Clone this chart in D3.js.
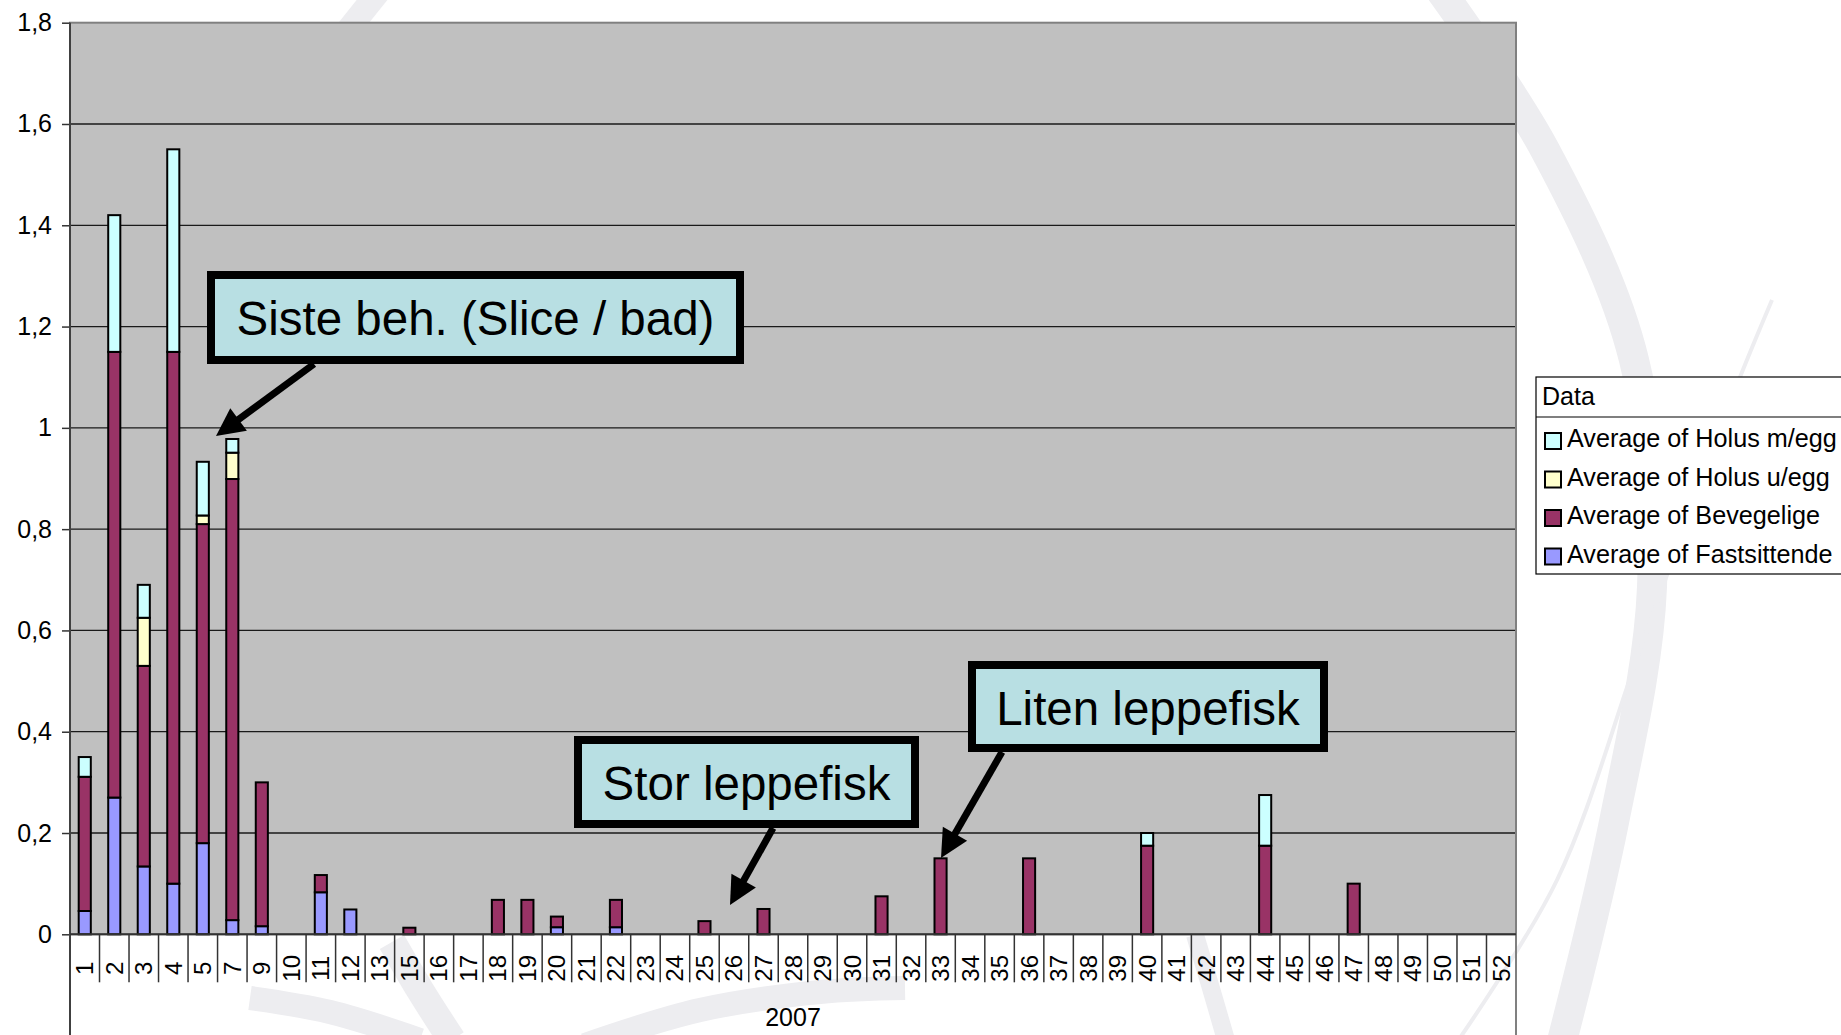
<!DOCTYPE html>
<html lang="no">
<head>
<meta charset="UTF-8">
<title>Lus per fisk 2007</title>
<script src="https://d3js.org/d3.v7.min.js"></script>
<style>
    body { margin: 0; background: #fff; }
    svg { display: block; font-family: "Liberation Sans", Arial, sans-serif; }
</style>
</head>
<body>
<svg class="chart"></svg>
<script>
    const svgW = 1841;
    const svgH = 1035;

    // uker (kategorier) - 6, 8 og 14 mangler i kilden
    const weeks = ["1","2","3","4","5","7","9","10","11","12","13","15","16","17","18","19","20","21","22","23","24","25","26","27","28","29","30","31","32","33","34","35","36","37","38","39","40","41","42","43","44","45","46","47","48","49","50","51","52"];

    // serier, lest av bildet
    const fastsittende = [0.046,0.270,0.134,0.100,0.180,0.028,0.016,0,0.083,0.049,0,0,0,0,0,0,0.014,0,0.014,0,0,0,0,0,0,0,0,0,0,0,0,0,0,0,0,0,0,0,0,0,0,0,0,0,0,0,0,0,0];
    const bevegelige   = [0.265,0.880,0.396,1.050,0.630,0.871,0.284,0,0.034,0,0,0.013,0,0,0.068,0.068,0.021,0,0.054,0,0,0.026,0,0.050,0,0,0,0.075,0,0.150,0,0,0.150,0,0,0,0.175,0,0,0,0.175,0,0,0.100,0,0,0,0,0];
    const holusUegg    = [0,0,0.095,0,0.017,0.052,0,0,0,0,0,0,0,0,0,0,0,0,0,0,0,0,0,0,0,0,0,0,0,0,0,0,0,0,0,0,0,0,0,0,0,0,0,0,0,0,0,0,0];
    const holusMegg    = [0.039,0.270,0.065,0.400,0.106,0.027,0,0,0,0,0,0,0,0,0,0,0,0,0,0,0,0,0,0,0,0,0,0,0,0,0,0,0,0,0,0,0.025,0,0,0,0.100,0,0,0,0,0,0,0,0];

    const seriesKeys   = ["fast", "bev", "hu", "hm"];
    const seriesNames  = ["Average of Fastsittende", "Average of Bevegelige", "Average of Holus u/egg", "Average of Holus m/egg"];
    const seriesColors = ["#9999ff", "#993366", "#ffffcc", "#ccffff"];

    const yMax = 1.8;

    const rows = weeks.map((w, i) => ({
        week: w, fast: fastsittende[i], bev: bevegelige[i], hu: holusUegg[i], hm: holusMegg[i]
    }));

    const plot = { left: 70, right: 1516, top: 22.7, bottom: 934.3 };

    const svg = d3.select(".chart")
        .attr("width", svgW)
        .attr("height", svgH)
        .attr("viewBox", `0 0 ${svgW} ${svgH}`);

    // vannmerke (svake buer i bakgrunnen)
    const wm = svg.append("g").attr("fill", "none").attr("stroke", "#ededf0").attr("stroke-linecap", "butt");
    const curve = d3.line().curve(d3.curveCatmullRom);
    wm.append("path").attr("stroke-width", 30)
        .attr("d", curve([[1440, -10], [1545, 150], [1634, 360], [1652, 587], [1614, 822], [1561, 1045]]));
    wm.append("path").attr("stroke-width", 4)
        .attr("d", curve([[1772, 300], [1731, 400], [1640, 650], [1557, 880], [1455, 1045]]));
    wm.append("path").attr("stroke-width", 24)
        .attr("d", curve([[380, -10], [360, 15], [340, 40]]));
    wm.append("path").attr("stroke-width", 24)
        .attr("d", curve([[250, 998], [330, 1012], [420, 1040]]));
    wm.append("path").attr("stroke-width", 28)
        .attr("d", curve([[392, 942], [420, 990], [452, 1040]]));
    wm.append("path").attr("stroke-width", 24)
        .attr("d", curve([[585, 1045], [700, 1010], [820, 992], [905, 988]]));
    wm.append("path").attr("stroke-width", 18)
        .attr("d", curve([[1195, 935], [1210, 985], [1226, 1040]]));

    // skalaer
    const x = d3.scaleBand()
        .domain(weeks)
        .range([plot.left, plot.right])
        .paddingInner(0.59)
        .paddingOuter(0.295);

    const y = d3.scaleLinear().domain([0, yMax]).range([plot.bottom, plot.top]);

    const nb = d3.formatLocale({ decimal: ",", thousands: " ", grouping: [3], currency: ["", " kr"] });
    const fmt = nb.format(".1~f");

    // plottområde
    svg.append("rect")
        .attr("x", plot.left).attr("y", plot.top)
        .attr("width", plot.right - plot.left).attr("height", plot.bottom - plot.top)
        .attr("fill", "#c0c0c0")
        .attr("stroke", "#808080").attr("stroke-width", 2);

    // rutenett
    const yTicks = y.ticks(9);
    svg.append("g").selectAll("line")
        .data(yTicks.filter(d => d > 0 && d < yMax))
        .join("line")
        .attr("x1", plot.left).attr("x2", plot.right)
        .attr("y1", d => y(d)).attr("y2", d => y(d))
        .attr("stroke", "#1a1a1a").attr("stroke-width", 1.3);

    // y-akse
    const yAxis = svg.append("g")
        .attr("transform", `translate(${plot.left},0)`)
        .call(d3.axisLeft(y).tickValues(yTicks).tickFormat(fmt).tickSize(8).tickPadding(10));
    yAxis.select(".domain").remove();
    yAxis.selectAll(".tick line").attr("stroke", "#333").attr("stroke-width", 1.5);
    yAxis.selectAll(".tick text").attr("font-size", 25).attr("fill", "#000")
        .attr("font-family", "Liberation Sans, Arial, sans-serif");

    // stablede søyler
    const stack = d3.stack().keys(seriesKeys);
    const layers = stack(rows);

    svg.append("g").selectAll("g")
        .data(layers)
        .join("g")
        .attr("fill", (d, i) => seriesColors[i])
        .selectAll("rect")
        .data(d => d.filter(s => s[1] - s[0] > 0))
        .join("rect")
        .attr("x", d => x(d.data.week))
        .attr("width", x.bandwidth())
        .attr("y", d => y(d[1]))
        .attr("height", d => y(d[0]) - y(d[1]))
        .attr("stroke", "#000")
        .attr("stroke-width", 2);

    // akselinjer
    svg.append("line")
        .attr("x1", plot.left).attr("x2", plot.left)
        .attr("y1", plot.top).attr("y2", svgH)
        .attr("stroke", "#404040").attr("stroke-width", 2);
    svg.append("line")
        .attr("x1", plot.right).attr("x2", plot.right)
        .attr("y1", plot.top).attr("y2", svgH)
        .attr("stroke", "#808080").attr("stroke-width", 2);
    svg.append("line")
        .attr("x1", plot.left).attr("x2", plot.right)
        .attr("y1", plot.bottom).attr("y2", plot.bottom)
        .attr("stroke", "#333").attr("stroke-width", 2);

    // kategoriskiller og etiketter
    const step = x.step();
    svg.append("g").selectAll("line")
        .data(d3.range(1, weeks.length))
        .join("line")
        .attr("x1", i => plot.left + i * step).attr("x2", i => plot.left + i * step)
        .attr("y1", plot.bottom).attr("y2", plot.bottom + 48)
        .attr("stroke", "#333").attr("stroke-width", 1.5);

    svg.append("g").selectAll("text")
        .data(weeks)
        .join("text")
        .attr("transform", d => `translate(${x(d) + x.bandwidth() / 2},${plot.bottom + 34}) rotate(-90)`)
        .attr("text-anchor", "middle")
        .attr("dominant-baseline", "central")
        .attr("font-size", 24)
        .text(d => d);

    svg.append("text")
        .attr("x", (plot.left + plot.right) / 2)
        .attr("y", 1026)
        .attr("text-anchor", "middle")
        .attr("font-size", 25)
        .text("2007");

    // forklaring
    const lg = svg.append("g").attr("transform", "translate(1536,377)");
    lg.append("rect").attr("width", 340).attr("height", 197)
        .attr("fill", "#fff").attr("stroke", "#000").attr("stroke-width", 1.2);
    lg.append("line").attr("x1", 0).attr("x2", 340).attr("y1", 40).attr("y2", 40)
        .attr("stroke", "#000").attr("stroke-width", 1.2);
    lg.append("text").attr("x", 6).attr("y", 28).attr("font-size", 25).text("Data");

    const legendOrder = [3, 2, 1, 0];
    const item = lg.selectAll(".item")
        .data(legendOrder)
        .join("g")
        .attr("class", "item")
        .attr("transform", (d, i) => `translate(0,${70 + i * 38.5})`);
    item.append("rect")
        .attr("x", 9).attr("y", -14).attr("width", 16).attr("height", 16)
        .attr("fill", d => seriesColors[d]).attr("stroke", "#000").attr("stroke-width", 2);
    item.append("text")
        .attr("x", 31).attr("y", 0)
        .attr("font-size", 25.2)
        .text(d => seriesNames[d]);

    // merknader
    const notes = [
        { text: "Siste beh. (Slice / bad)", box: [207, 271, 744, 364], from: [314, 364], to: [216, 436] },
        { text: "Stor leppefisk",           box: [574, 736, 919, 828], from: [773, 828], to: [730, 905] },
        { text: "Liten leppefisk",          box: [968, 661, 1328, 752], from: [1002, 752], to: [941, 858] }
    ];

    const ng = svg.append("g");
    notes.forEach(n => {
        const [fx, fy] = n.from;
        const [tx, ty] = n.to;
        const len = Math.hypot(tx - fx, ty - fy);
        const ux = (tx - fx) / len, uy = (ty - fy) / len;
        const headL = 28, headW = 14;
        const bx = tx - ux * headL, by = ty - uy * headL;
        ng.append("line")
            .attr("x1", fx).attr("y1", fy).attr("x2", bx + ux * 2).attr("y2", by + uy * 2)
            .attr("stroke", "#000").attr("stroke-width", 7);
        ng.append("path")
            .attr("d", `M${tx},${ty}L${bx - uy * headW},${by + ux * headW}L${bx + uy * headW},${by - ux * headW}Z`)
            .attr("fill", "#000");
    });
    notes.forEach(n => {
        const [x0, y0, x1, y1] = n.box;
        ng.append("rect")
            .attr("x", x0 + 4).attr("y", y0 + 4)
            .attr("width", x1 - x0 - 8).attr("height", y1 - y0 - 8)
            .attr("fill", "#b8dfe3").attr("stroke", "#000").attr("stroke-width", 8);
        ng.append("text")
            .attr("x", (x0 + x1) / 2).attr("y", y0 + 64)
            .attr("text-anchor", "middle")
            .attr("font-size", 47.5)
            .text(n.text);
    });
</script>
</body>
</html>
